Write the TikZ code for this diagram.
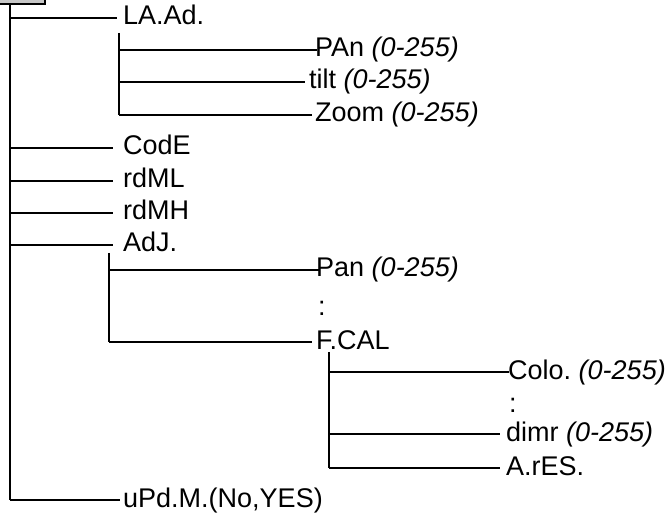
\documentclass[tikz,border=0pt]{standalone}
\usepackage{fontspec}
\setmainfont{Liberation Sans}
\frenchspacing
\begin{document}
\begin{tikzpicture}[x=1pt,y=-1pt,
  lbl/.style={anchor=west,inner sep=0pt,text height=14pt,text depth=0pt,font=\fontsize{27}{32}\selectfont},
  conn/.style={line width=1.9pt}]
\useasboundingbox (0,0) rectangle (669,518);
\node[draw,line width=1.6pt,fill=gray!45,minimum width=50pt,minimum height=14pt,inner sep=0pt,anchor=south east] (root) at (46,5) {};
\coordinate (t0) at (10,5);
\coordinate (t1) at (119,33);
\coordinate (t2) at (109,253);
\coordinate (t3) at (329,352);
% level 1
\node[lbl] (laad) at (123,18) {LA.Ad.};
\node[lbl] (code) at (123,148) {CodE};
\node[lbl] (rdml) at (123,181) {rdML};
\node[lbl] (rdmh) at (123,213) {rdMH};
\node[lbl] (adj) at (123,245) {AdJ.};
\node[lbl] (upd) at (123,500) {uPd.M.(No,YES)};
% level 2 under LA.Ad.
\node[lbl] (pan1) at (315,50) {PAn {\itshape (0-255)}};
\node[lbl] (tilt) at (309,82) {tilt {\itshape (0-255)}};
\node[lbl] (zoom) at (315,115) {Zoom {\itshape (0-255)}};
% level 2 under AdJ.
\node[lbl] (pan2) at (316,270) {Pan {\itshape (0-255)}};
\node[lbl] (dots1) at (318,309) {:};
\node[lbl] (fcal) at (316,342) {F.CAL};
% level 3 under F.CAL
\node[lbl] (colo) at (508,372) {Colo. {\itshape (0-255)}};
\node[lbl] (dots2) at (509,405) {:};
\node[lbl] (dimr) at (506,434) {dimr {\itshape (0-255)}};
\node[lbl] (ares) at (506,468) {A.rES.};
% trunks
\draw[conn] (t0) -- (t0 |- upd.west);
\draw[conn] (t1) -- (t1 |- zoom.west);
\draw[conn] (t2) -- (t2 |- fcal.west);
\draw[conn] (t3) -- (t3 |- ares.west);
% branches
\draw[conn] (t0 |- laad.west) -- ([xshift=-6pt]laad.west);
\draw[conn] (t0 |- code.west) -- ([xshift=-10pt]code.west);
\draw[conn] (t0 |- rdml.west) -- ([xshift=-10pt]rdml.west);
\draw[conn] (t0 |- rdmh.west) -- ([xshift=-10pt]rdmh.west);
\draw[conn] (t0 |- adj.west) -- ([xshift=-10pt]adj.west);
\draw[conn] (t0 |- upd.west) -- ([xshift=-3pt]upd.west);
\draw[conn] (t1 |- pan1.west) -- ([xshift=2pt]pan1.west);
\draw[conn] (t1 |- tilt.west) -- ([xshift=-4pt]tilt.west);
\draw[conn] (t1 |- zoom.west) -- ([xshift=-3pt]zoom.west);
\draw[conn] (t2 |- pan2.west) -- ([xshift=3pt]pan2.west);
\draw[conn] (t2 |- fcal.west) -- ([xshift=-4pt]fcal.west);
\draw[conn] (t3 |- colo.west) -- ([xshift=1pt]colo.west);
\draw[conn] (t3 |- dimr.west) -- ([xshift=-6pt]dimr.west);
\draw[conn] (t3 |- ares.west) -- ([xshift=-6pt]ares.west);
\end{tikzpicture}
\end{document}
